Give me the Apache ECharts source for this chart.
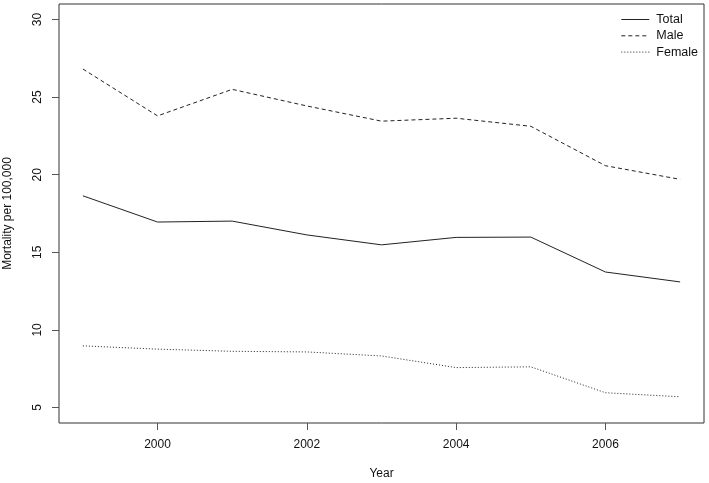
<!DOCTYPE html>
<html>
<head>
<meta charset="utf-8">
<script src="https://cdn.jsdelivr.net/npm/echarts@6/dist/echarts.min.js"></script>
<style>html,body{margin:0;padding:0;background:#fff;}#c{width:709px;height:483px;}</style>
</head>
<body>
<div id="c"></div>
<script>
const years = [1999, 2000, 2001, 2002, 2003, 2004, 2005, 2006, 2007];
const total = [18.64, 16.95, 17.01, 16.12, 15.48, 15.96, 15.98, 13.73, 13.09];
const male = [26.81, 23.79, 25.50, 24.43, 23.45, 23.64, 23.12, 20.58, 19.70];
const female = [8.97, 8.76, 8.62, 8.58, 8.32, 7.57, 7.62, 5.95, 5.69];
const xTicks = [2000, 2002, 2004, 2006];
const yTicks = [5, 10, 15, 20, 25, 30];

const font = 'Liberation Sans, Arial, Helvetica, sans-serif';
const ink = '#222';
const zip = (ys) => years.map((y, i) => [y, ys[i]]);

const chart = echarts.init(document.getElementById('c'), null, {renderer: 'canvas'});
chart.setOption({
  animation: false,
  backgroundColor: '#fff',
  textStyle: {fontFamily: font},
  grid: {left: 59, right: 5, top: 4, bottom: 60, outerBoundsMode: 'none', containLabel: false, show: true, borderColor: '#333', borderWidth: 1, backgroundColor: 'transparent'},
  legend: {
    orient: 'vertical', right: 11, top: 13, padding: 0,
    itemWidth: 28, itemHeight: 12, itemGap: 3.3,
    itemStyle: {opacity: 0},
    lineStyle: {width: 1},
    textStyle: {fontFamily: font, fontSize: 12.5, color: '#111', padding: [0, 0, 0, 2]},
    data: ['Total', 'Male', 'Female']
  },
  xAxis: {
    type: 'value', min: 1998.68, max: 2007.32,
    name: 'Year', nameLocation: 'middle', nameGap: 45,
    nameTextStyle: {fontFamily: font, fontSize: 12, color: '#111'},
    axisLine: {show: false},
    splitLine: {show: false},
    axisTick: {show: true, length: 7, customValues: xTicks, lineStyle: {color: '#555'}},
    axisLabel: {customValues: xTicks, margin: 16, fontSize: 12, color: '#111', fontFamily: font, formatter: v => String(v)}
  },
  yAxis: {
    type: 'value', min: 4, max: 31,
    name: 'Mortality per 100,000', nameLocation: 'middle', nameGap: 45, nameRotate: 90,
    nameTextStyle: {fontFamily: font, fontSize: 12, color: '#111'},
    axisLine: {show: false},
    splitLine: {show: false},
    axisTick: {show: true, length: 7, customValues: yTicks, lineStyle: {color: '#555'}},
    axisLabel: {customValues: yTicks, rotate: 90, margin: 15, fontSize: 12, color: '#111', fontFamily: font}
  },
  series: [
    {name: 'Total', type: 'line', data: zip(total), symbol: 'none', lineStyle: {color: ink, width: 1, type: 'solid'}, itemStyle: {color: ink}},
    {name: 'Male', type: 'line', data: zip(male), symbol: 'none', lineStyle: {color: ink, width: 1, type: [4, 3]}, itemStyle: {color: ink}},
    {name: 'Female', type: 'line', data: zip(female), symbol: 'none', lineStyle: {color: ink, width: 1, type: [1, 2]}, itemStyle: {color: ink}}
  ]
});
</script>
</body>
</html>
